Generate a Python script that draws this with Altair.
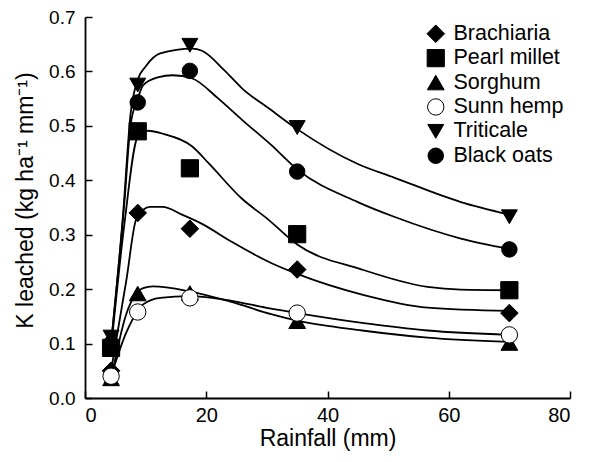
import altair as alt
import pandas as pd

# ---- data ----
series = ["Brachiaria", "Pearl millet", "Sorghum", "Sunn hemp", "Triticale", "Black oats"]
rain = [4.3, 8.7, 17.3, 35.0, 70.0]

obs_brachiaria = [0.050, 0.340, 0.311, 0.236, 0.156]
obs_pearl = [0.092, 0.490, 0.422, 0.301, 0.198]
obs_sorghum = [0.036, 0.192, 0.193, 0.141, 0.101]
obs_sunn = [0.040, 0.158, 0.184, 0.156, 0.116]
obs_triticale = [0.112, 0.575, 0.648, 0.497, 0.333]
obs_oats = [0.100, 0.543, 0.601, 0.416, 0.273]

# fitted curves
fit_x_brachiaria = [4.3, 6.8, 8.5, 10.7, 12.8, 16.0, 19.3, 24.2, 30.7, 35.0, 45.7, 56.5, 70.0]
fit_y_brachiaria = [0.050, 0.215, 0.330, 0.351, 0.351, 0.337, 0.320, 0.287, 0.248, 0.228, 0.190, 0.166, 0.160]

fit_x_pearl = [4.3, 6.5, 8.7, 10.4, 13.0, 17.7, 20.5, 25.9, 30.0, 35.0, 45.7, 56.5, 62.0, 70.0]
fit_y_pearl = [0.090, 0.320, 0.480, 0.491, 0.485, 0.462, 0.430, 0.366, 0.330, 0.282, 0.236, 0.204, 0.199, 0.198]

fit_x_sorghum = [4.3, 6.8, 9.6, 11.2, 17.2, 24.0, 30.7, 35.0, 45.7, 56.5, 70.0]
fit_y_sorghum = [0.035, 0.154, 0.202, 0.205, 0.196, 0.177, 0.154, 0.142, 0.124, 0.111, 0.103]

fit_x_sunn = [4.3, 6.8, 8.7, 9.6, 12.4, 17.2, 21.0, 24.0, 30.7, 35.0, 45.7, 56.5, 70.0]
fit_y_sunn = [0.040, 0.120, 0.160, 0.172, 0.184, 0.187, 0.184, 0.179, 0.164, 0.156, 0.138, 0.124, 0.116]

fit_x_triticale = [4.3, 6.3, 7.5, 8.7, 10.0, 12.4, 17.7, 19.3, 23.0, 25.9, 30.7, 35.0, 45.0, 51.0, 62.0, 70.0]
fit_y_triticale = [0.100, 0.340, 0.520, 0.585, 0.609, 0.633, 0.642, 0.638, 0.602, 0.569, 0.529, 0.494, 0.430, 0.405, 0.360, 0.337]

fit_x_oats = [4.3, 6.5, 7.5, 8.7, 9.6, 12.0, 14.5, 17.7, 22.0, 25.9, 30.7, 35.0, 45.0, 51.0, 62.0, 70.0]
fit_y_oats = [0.100, 0.360, 0.500, 0.550, 0.575, 0.589, 0.593, 0.587, 0.550, 0.511, 0.465, 0.420, 0.360, 0.333, 0.293, 0.274]

shapes = ["diamond", "square", "triangle-up", "circle", "triangle-down", "circle"]
fills = ["black", "black", "black", "white", "black", "black"]
sizes = [310, 240, 250, 190, 270, 210]

x_ticks = [0, 20, 40, 60, 80]
y_ticks = [0.0, 0.1, 0.2, 0.3, 0.4, 0.5, 0.6, 0.7]

# ---- tables ----
obs = {
    "Brachiaria": obs_brachiaria, "Pearl millet": obs_pearl, "Sorghum": obs_sorghum,
    "Sunn hemp": obs_sunn, "Triticale": obs_triticale, "Black oats": obs_oats,
}
fits = {
    "Brachiaria": (fit_x_brachiaria, fit_y_brachiaria),
    "Pearl millet": (fit_x_pearl, fit_y_pearl),
    "Sorghum": (fit_x_sorghum, fit_y_sorghum),
    "Sunn hemp": (fit_x_sunn, fit_y_sunn),
    "Triticale": (fit_x_triticale, fit_y_triticale),
    "Black oats": (fit_x_oats, fit_y_oats),
}
pts = pd.DataFrame([
    {"Rainfall": r, "K": v, "Series": s, "Marker": s}
    for s in series for r, v in zip(rain, obs[s])
])
crv = pd.DataFrame([
    {"Rainfall": r, "K": v, "Curve": s}
    for s in series for r, v in zip(*fits[s])
])

W, H = 485, 381
FONT = "Liberation Sans"

xscale = alt.Scale(domain=[0, 80], nice=False, zero=True)
yscale = alt.Scale(domain=[0, 0.7], nice=False)

lines = alt.Chart(crv).mark_line(
    interpolate="monotone", color="black", strokeWidth=1.8
).encode(
    x=alt.X("Rainfall:Q", scale=xscale,
            axis=alt.Axis(orient="top", offset=-H, values=x_ticks, labels=False,
                          title=None, domain=False, ticks=True, tickSize=7,
                          tickWidth=1.5, tickColor="black", grid=False)),
    y=alt.Y("K:Q", scale=yscale,
            axis=alt.Axis(orient="right", offset=-W, values=y_ticks, labels=False,
                          title=None, domain=False, ticks=True, tickSize=7,
                          tickWidth=1.5, tickColor="black", grid=False)),
    detail="Curve:N",
)

points = alt.Chart(pts).mark_point(
    filled=True, stroke="black", strokeWidth=1, opacity=1
).encode(
    x=alt.X("Rainfall:Q", scale=xscale,
            axis=alt.Axis(orient="bottom", values=x_ticks, format="d", ticks=False,
                          tickSize=0, labelPadding=7, labelFontSize=20,
                          labelColor="black", labelFont=FONT,
                          title="Rainfall (mm)", titleFontSize=23,
                          titleFontWeight="normal", titleFont=FONT,
                          titleColor="black", titleBaseline="alphabetic",
                          titleY=47,
                          domainColor="black", domainWidth=1.8, grid=False)),
    y=alt.Y("K:Q", scale=yscale,
            axis=alt.Axis(orient="left", values=y_ticks, format=".1f", ticks=False,
                          tickSize=0, labelPadding=10, labelFontSize=19,
                          labelColor="black", labelFont=FONT,
                          title="K leached (kg ha\u207b\u00b9 mm\u207b\u00b9)",
                          titleFontSize=23, titleFontWeight="normal",
                          titleFont=FONT, titleColor="black",
                          titleBaseline="alphabetic", titleAngle=270,
                          titleX=-53, titleY=183,
                          domainColor="black", domainWidth=1.8, grid=False)),
    shape=alt.Shape("Series:N", scale=alt.Scale(domain=series, range=shapes),
                    legend=alt.Legend(title=None, orient="top-right", offset=6)),
    color=alt.Color("Series:N", scale=alt.Scale(domain=series, range=fills),
                    legend=alt.Legend(title=None, orient="top-right", offset=6)),
    size=alt.Size("Marker:N", scale=alt.Scale(domain=series, range=sizes), legend=None),
)

chart = alt.layer(lines, points).resolve_axis(
    x="independent", y="independent"
).properties(
    width=W, height=H,
    autosize=alt.AutoSizeParams(type="none"),
    padding={"left": 77, "top": 9, "right": 11, "bottom": 56},
).configure_view(stroke=None).configure_legend(
    labelFontSize=21.5, labelFont=FONT, labelColor="black", symbolSize=210,
    symbolStrokeColor="black", symbolStrokeWidth=1, labelOffset=7,
    rowPadding=1.4, padding=0,
)

chart.save("out.html", embed_options={"renderer": "svg", "actions": False})
